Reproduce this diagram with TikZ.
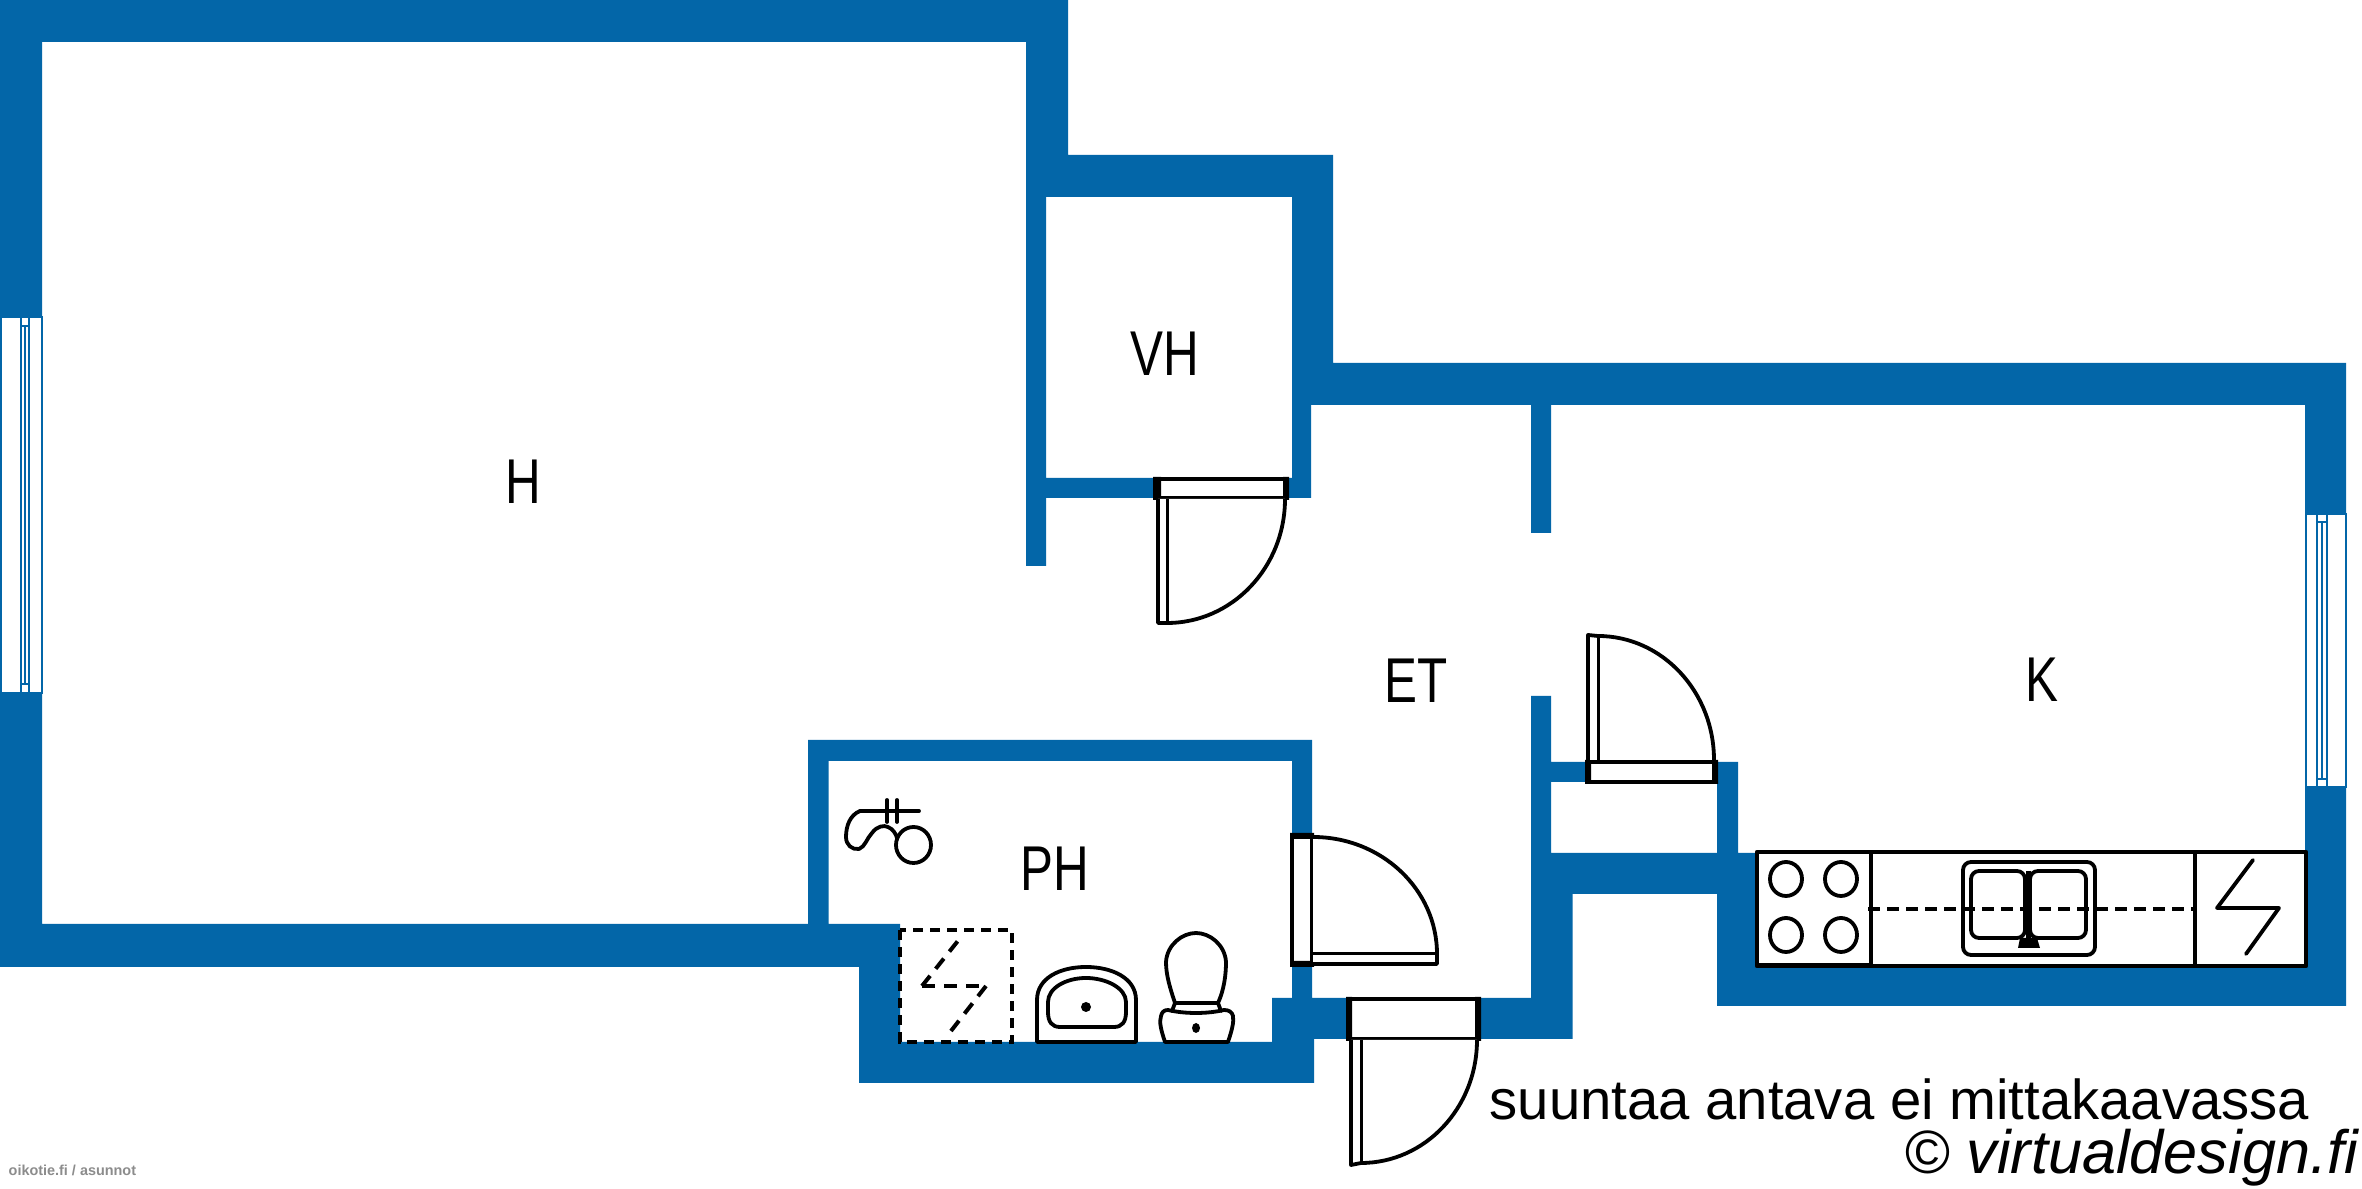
\documentclass[tikz,border=0pt]{standalone}
\usepackage{fontspec}
\setmainfont{Liberation Sans}
\newfontfamily\narrowfont[FakeStretch=0.78]{Liberation Sans}
\definecolor{wallblue}{RGB}{3,102,168}
\tikzset{
  wall/.style={fill=wallblue,draw=none},
  windowframe/.style={fill=white,draw=wallblue,line width=0.16mm},
  windowline/.style={draw=wallblue,line width=0.16mm},
  doorframe/.style={fill=white,draw=black,line width=0.4mm},
  doorpost/.style={fill=black,draw=none},
  doorleaf/.style={fill=white,draw=black,line width=0.38mm,line join=round},
  fixture/.style={draw=black,line width=0.38mm,line cap=round,line join=round},
  dashfix/.style={draw=black,line width=0.4mm,dash pattern=on 1mm off 0.7mm},
  roomlabel/.style={font=\narrowfont\fontsize{18}{18}\selectfont,inner sep=0pt},
}
\begin{document}
\begin{tikzpicture}[x=0.01cm,y=-0.01cm]
\useasboundingbox (0,0) rectangle (2362,1189);
\fill[white] (0,0) rectangle (2362,1189);
% walls
\path[wall]
  (0,0) rectangle (1068,42)
  (0,0) rectangle (42,317)
  (0,693) rectangle (42,967)
  (0,924) rectangle (900,967)
  (859,924) rectangle (900,1083)
  (859,1042) rectangle (1314,1083)
  (808,740) rectangle (828.5,924)
  (808,740) rectangle (1312,761)
  (1292,740) rectangle (1312,840)
  (1292,960) rectangle (1312,1039)
  (1272,998) rectangle (1346,1039)
  (1272,998) rectangle (1314,1083)
  (1481,998) rectangle (1572,1039)
  (1531,696) rectangle (1551,1039)
  (1531,853) rectangle (1572.5,1039)
  (1551,762) rectangle (1590,782)
  (1717,762) rectangle (1738,853)
  (1551,853) rectangle (1738,894)
  (1717,853) rectangle (2346,1006)
  (2305,363) rectangle (2346,514)
  (2305,787) rectangle (2346,1006)
  (1292,363) rectangle (2346,405)
  (1026,155) rectangle (1333,197)
  (1292,155) rectangle (1333,405)
  (1026,0) rectangle (1068,197)
  (1026,197) rectangle (1046,566)
  (1026,478) rectangle (1160,498)
  (1285,478) rectangle (1311,498)
  (1292,405) rectangle (1311,498)
  (1531,405) rectangle (1551,533);
% left window
\path[windowframe] (1,317) rectangle (42,693);
\path[windowline] (21,317) -- (21,693) (29,317) -- (29,693) (25,326) -- (25,684)
  (21,326) -- (29,326) (21,684) -- (29,684);
% right window
\path[windowframe] (2306,514) rectangle (2346,787);
\path[windowline] (2317,514) -- (2317,787) (2327,514) -- (2327,787) (2322,522) -- (2322,779)
  (2317,522) -- (2327,522) (2317,779) -- (2327,779);
% door VH
\path[doorframe] (1155,479) rectangle (1287,498);
\path[doorpost] (1153,477) rectangle (1161,500) (1283,477) rectangle (1289,500);
\path[doorleaf] (1285,499) .. controls (1285,567.5) and (1232,623) .. (1167,623) -- (1158,623) -- (1158,499);
\draw[black,line width=0.3mm] (1167,499) -- (1167,623);
% door PH
\path[doorframe] (1292,835) rectangle (1312,965);
\path[doorpost] (1290,833) rectangle (1314,839) (1290,961) rectangle (1314,967);
\path[doorleaf] (1313,837) .. controls (1381.5,837) and (1437,889.4) .. (1437,954) -- (1437,964) -- (1313,964);
\draw[black,line width=0.3mm] (1313,954) -- (1437,954);
% entry door
\path[doorframe] (1348,999) rectangle (1479,1039);
\path[doorpost] (1346,997) rectangle (1352,1041) (1475,997) rectangle (1481,1041);
\path[doorleaf] (1477,1040) .. controls (1477,1108) and (1425,1163) .. (1361,1163) -- (1351,1165) -- (1351,1040);
\draw[black,line width=0.3mm] (1361,1040) -- (1361,1163);
% door K
\path[doorframe] (1587,762) rectangle (1716,782);
\path[doorpost] (1585,760) rectangle (1591,784) (1712,760) rectangle (1718,784);
\path[doorleaf] (1714,760) .. controls (1714,691.5) and (1662,636) .. (1598,636) -- (1588,635) -- (1588,760);
\draw[black,line width=0.3mm] (1598,636) -- (1598,760);
% kitchen counter
\path[fixture,fill=white,line width=0.45mm] (1757,852) rectangle (2306,966);
\path[fill=black] (1757,963) rectangle (1871,968);
\path[fixture] (1871,852) -- (1871,966) (2195,852) -- (2195,966);
\path[fixture] (1786,879) ellipse (16 and 17) (1841,879) ellipse (16 and 17)
  (1786,935) ellipse (16 and 17) (1841,935) ellipse (16 and 17);
\path[fixture,rounded corners=0.8mm] (1963,862) rectangle (2095,955);
\path[fixture,rounded corners=0.8mm] (1971,871) rectangle (2025,938);
\path[fixture,rounded corners=0.8mm] (2030,871) rectangle (2086,938);
\path[dashfix,dash pattern=on 1.2mm off 0.7mm] (1868,909) -- (2195,909);
\path[draw=black,line width=0.5mm] (2028.5,871) -- (2028.5,945);
\path[fill=black] (2020,938) -- (2037,938) -- (2040,948) -- (2018,948) -- cycle;
\path[fixture] (2253,860) -- (2217,908) -- (2279,908) -- (2246,954);
% shower
\path[fixture] (860,811) -- (919,811) (887,800) -- (887,822) (897,800) -- (897,822);
\path[fixture] (860,811) .. controls (850,815) and (846,826) .. (846,837)
  .. controls (846,845) and (852,850) .. (859,849)
  .. controls (865,847) and (867,838) .. (872,833)
  .. controls (877,826) and (884,825) .. (888,827)
  .. controls (893,829) and (896,834) .. (897,838);
\path[fixture] (913.5,845) ellipse (17.5 and 18);
% dashed plate
\path[dashfix] (900,930) rectangle (1012,1042);
\path[dashfix,dash pattern=on 1.3mm off 0.9mm] (922,986) -- (961,937);
\path[dashfix,dash pattern=on 1.3mm off 0.9mm] (922,986) -- (986,986);
\path[dashfix,dash pattern=on 1.3mm off 0.9mm] (986,986) -- (951,1031);
% washbasin
\path[fixture] (1037,1042) -- (1037,1000) .. controls (1037,978) and (1060,967) .. (1086,967)
  .. controls (1112,967) and (1136,978) .. (1136,1000) -- (1136,1042) -- cycle;
\path[fixture] (1048,1012) -- (1048,1002) .. controls (1048,988) and (1066,978) .. (1086,978)
  .. controls (1106,978) and (1126,988) .. (1126,1002) -- (1126,1012)
  .. controls (1126,1022) and (1122,1027) .. (1114,1027) -- (1060,1027)
  .. controls (1052,1027) and (1048,1022) .. (1048,1012) -- cycle;
\path[fill=black] (1086,1007) ellipse (5 and 5);
% toilet
\path[fixture] (1175,1003) .. controls (1170,988) and (1166,975) .. (1166,962)
  .. controls (1167,945) and (1182,933) .. (1196,933)
  .. controls (1210,933) and (1225,945) .. (1226,962)
  .. controls (1226,975) and (1224,990) .. (1218,1003) -- cycle;
\path[fixture] (1175,1003) -- (1172,1011) (1218,1003) -- (1221,1011);
\path[fixture] (1165,1042) .. controls (1161,1030) and (1159,1022) .. (1161,1016)
  .. controls (1162,1012) and (1164,1010) .. (1168,1010)
  .. controls (1185,1014) and (1207,1014) .. (1224,1010)
  .. controls (1229,1010) and (1232,1012) .. (1233,1016)
  .. controls (1234,1022) and (1232,1030) .. (1228,1042) -- cycle;
\path[fill=black] (1196,1028) ellipse (4 and 5);
% labels
\node[roomlabel] (h) at (523,482) {H};
\node[roomlabel] (vh) at (1165,354) {VH};
\node[roomlabel] (et) at (1416,681) {ET};
\node[roomlabel] (k) at (2042,680) {K};
\node[roomlabel] (ph) at (1055,869) {PH};
\node[anchor=base west,inner sep=0pt,font=\fontsize{16}{16}\selectfont] (note) at (1489,1120) {suuntaa antava ei mittakaavassa};
\node[anchor=base west,inner sep=0pt,font=\itshape\fontsize{17.4}{17}\selectfont] (credit) at (1904,1174) {© virtualdesign.fi};
\node[anchor=base west,inner sep=0pt,text=black!45,font=\bfseries\fontsize{4.1}{4}\selectfont] (mark) at (8,1176) {oikotie.fi / asunnot};
\end{tikzpicture}
\end{document}
